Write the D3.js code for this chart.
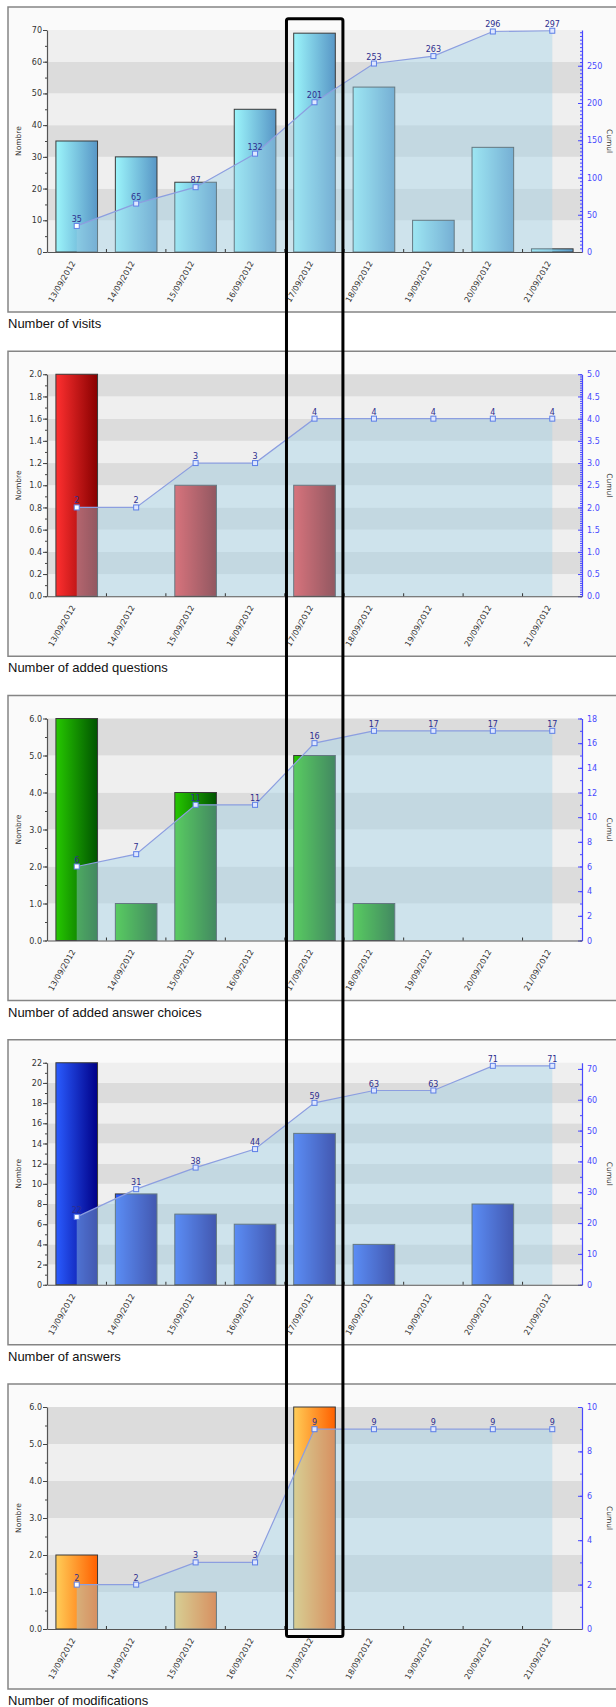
<!DOCTYPE html>
<html>
<head>
<meta charset="utf-8">
<script src="https://cdn.jsdelivr.net/npm/d3@7"></script>
<style>
  html, body { margin: 0; padding: 0; background: #ffffff; }
  svg { display: block; }
  .tick text { font-family: "DejaVu Sans", sans-serif; }
</style>
</head>
<body>
<svg id="chart" width="616" height="1707"></svg>
<script>
// Daily activity, 13/09/2012 to 21/09/2012
const dates = ["13/09/2012", "14/09/2012", "15/09/2012", "16/09/2012", "17/09/2012",
               "18/09/2012", "19/09/2012", "20/09/2012", "21/09/2012"];

const visits = [35, 30, 22, 45, 69, 52, 10, 33, 1];
const visitsCumul = [35, 65, 87, 132, 201, 253, 263, 296, 297];

const addedQuestions = [2, 0, 1, 0, 1, 0, 0, 0, 0];
const addedQuestionsCumul = [2, 2, 3, 3, 4, 4, 4, 4, 4];

const addedChoices = [6, 1, 4, 0, 5, 1, 0, 0, 0];
const addedChoicesCumul = [6, 7, 11, 11, 16, 17, 17, 17, 17];

const answers = [22, 9, 7, 6, 15, 4, 0, 8, 0];
const answersCumul = [22, 31, 38, 44, 59, 63, 63, 71, 71];

const modifications = [2, 0, 1, 0, 6, 0, 0, 0, 0];
const modificationsCumul = [2, 2, 3, 3, 9, 9, 9, 9, 9];

const panelTitles = ["Number of visits", "Number of added questions",
                     "Number of added answer choices", "Number of answers",
                     "Number of modifications"];

// Axis domains and tick steps ("Nombre" on the left, "Cumul" on the right)
const leftMax   = [70, 2, 6, 22, 6];
const leftStep  = [10, 0.2, 1, 2, 1];
const rightMax  = [298, 5, 18, 72, 10];
const rightStep = [50, 0.5, 2, 10, 2];
const rightMinor = [5, 0.05, 1, 5, 1];
const leftDecimals  = [0, 1, 1, 0, 1];
const rightDecimals = [0, 1, 0, 0, 0];
const highlighted = "17/09/2012";

const barSeries = [visits, addedQuestions, addedChoices, answers, modifications];
const cumulSeries = [visitsCumul, addedQuestionsCumul, addedChoicesCumul, answersCumul, modificationsCumul];

// Layout & style
const W = 616;
const plotLeft = 47, plotRight = 582, plotH = 222;
const firstTop = 30, panelGap = 344.25;
const barColors = [["#9cf5fb", "#5896c6"], ["#ff3030", "#880000"], ["#26c800", "#005400"],
                   ["#2a5cff", "#000088"], ["#ffcd58", "#ff6000"]];
const bandLight = "#efefef", bandDark = "#dcdcdc";
const fillColor = "rgba(159,209,231,0.42)";
const lineColor = "#8c9ee0";
const labelColor = "#2e2e8e";
const axisBlue = "#4848ff";

const svg = d3.select("#chart");
const defs = svg.append("defs");

const x = d3.scaleBand().domain(dates).range([plotLeft, plotRight]).paddingInner(0).paddingOuter(0);
const barW = x.bandwidth() * 0.70;

function steps(max, step) {
  const n = Math.floor(max / step + 1e-9);
  return d3.range(n + 1).map(k => +(k * step).toFixed(6));
}

barSeries.forEach((values, i) => {
  const cumul = cumulSeries[i];
  const top = firstTop + i * panelGap;
  const bottom = top + plotH;
  const yL = d3.scaleLinear().domain([0, leftMax[i]]).range([bottom, top]);
  const yR = d3.scaleLinear().domain([0, rightMax[i]]).range([bottom, top]);
  const g = svg.append("g");

  // panel frame
  g.append("rect")
    .attr("x", 8).attr("y", top - 23)
    .attr("width", W + 10).attr("height", plotH + 83)
    .attr("fill", "#fafafa").attr("stroke", "#858585").attr("stroke-width", 1.5);

  // title under the frame
  g.append("text")
    .attr("x", 8).attr("y", bottom + 76)
    .attr("font-family", "Liberation Sans, Arial, sans-serif")
    .attr("font-size", 13).attr("fill", "#111")
    .text(panelTitles[i]);

  // alternating horizontal bands, one per left-axis step
  const lt = steps(leftMax[i], leftStep[i]);
  g.append("g").selectAll("rect").data(d3.pairs(lt)).join("rect")
    .attr("x", plotLeft).attr("width", plotRight - plotLeft)
    .attr("y", d => yL(d[1])).attr("height", d => yL(d[0]) - yL(d[1]))
    .attr("fill", (d, k) => k % 2 === 0 ? bandLight : bandDark);

  // bar gradient
  const grad = defs.append("linearGradient").attr("id", "bar" + i)
    .attr("x1", 0).attr("x2", 1).attr("y1", 0).attr("y2", 0);
  grad.append("stop").attr("offset", "0%").attr("stop-color", barColors[i][0]);
  grad.append("stop").attr("offset", "100%").attr("stop-color", barColors[i][1]);

  // bars (Nombre)
  g.append("g").selectAll("rect").data(values.map((v, k) => ({ d: dates[k], v })).filter(o => o.v > 0))
    .join("rect")
    .attr("x", o => x(o.d) + (x.bandwidth() - barW) / 2)
    .attr("width", barW)
    .attr("y", o => yL(o.v))
    .attr("height", o => bottom - yL(o.v))
    .attr("fill", `url(#bar${i})`)
    .attr("stroke", "#3a3a3a").attr("stroke-width", 1);

  // cumulative area and line (Cumul)
  const pts = cumul.map((c, k) => ({ d: dates[k], c }));
  const cx = o => x(o.d) + x.bandwidth() / 2;
  g.append("path").datum(pts)
    .attr("d", d3.area().x(cx).y0(bottom).y1(o => yR(o.c)))
    .attr("fill", fillColor);
  g.append("path").datum(pts)
    .attr("d", d3.line().x(cx).y(o => yR(o.c)))
    .attr("fill", "none").attr("stroke", lineColor).attr("stroke-width", 1.2);
  g.append("g").selectAll("rect").data(pts).join("rect")
    .attr("x", o => cx(o) - 2.5).attr("y", o => yR(o.c) - 2.5)
    .attr("width", 5).attr("height", 5)
    .attr("fill", (o, k) => k === 0 ? "#ffffff" : "#dfe7ff")
    .attr("stroke", "#5d7fe6").attr("stroke-width", 1);
  g.append("g").selectAll("text").data(pts).join("text")
    .attr("x", cx).attr("y", o => yR(o.c) - 4)
    .attr("text-anchor", "middle")
    .attr("font-family", "DejaVu Sans, sans-serif").attr("font-size", 8)
    .attr("fill", labelColor)
    .text(o => o.c);

  // left axis (Nombre)
  const fmtL = d3.format(leftDecimals[i] ? ".1f" : "d");
  const leftMinorTicks = steps(leftMax[i], leftStep[i] / 2);
  g.append("g").attr("transform", `translate(${plotLeft},0)`)
    .call(d3.axisLeft(yL).tickValues(leftMinorTicks).tickSize(2).tickFormat(""))
    .call(a => a.select(".domain").remove())
    .call(a => a.selectAll("line").attr("stroke", "#444"));
  g.append("g").attr("transform", `translate(${plotLeft},0)`)
    .call(d3.axisLeft(yL).tickValues(lt).tickSize(4).tickSizeOuter(0).tickPadding(1).tickFormat(fmtL))
    .call(a => a.select(".domain").attr("stroke", "#555").attr("stroke-width", 1.2))
    .call(a => a.selectAll("line").attr("stroke", "#444"))
    .call(a => a.selectAll("text").attr("font-size", 8).attr("fill", "#333"));
  g.append("text")
    .attr("transform", `translate(${plotLeft - 26},${(top + bottom) / 2}) rotate(-90)`)
    .attr("text-anchor", "middle")
    .attr("font-family", "DejaVu Sans, sans-serif").attr("font-size", 7.5).attr("fill", "#333")
    .text("Nombre");

  // right axis (Cumul)
  const fmtR = d3.format(rightDecimals[i] ? ".1f" : "d");
  g.append("g").attr("transform", `translate(${plotRight},0)`)
    .call(d3.axisRight(yR).tickValues(steps(rightMax[i], rightMinor[i])).tickSizeInner(-2).tickSizeOuter(0).tickFormat(""))
    .call(a => a.select(".domain").remove())
    .call(a => a.selectAll("line").attr("stroke", axisBlue));
  g.append("g").attr("transform", `translate(${plotRight},0)`)
    .call(d3.axisRight(yR).tickValues(steps(rightMax[i], rightStep[i])).tickSizeInner(-4).tickSizeOuter(0).tickPadding(5).tickFormat(fmtR))
    .call(a => a.select(".domain").attr("stroke", axisBlue).attr("stroke-width", 1.2))
    .call(a => a.selectAll("line").attr("stroke", axisBlue))
    .call(a => a.selectAll("text").attr("font-size", 8).attr("fill", axisBlue));
  g.append("text")
    .attr("transform", `translate(${plotRight + 25},${(top + bottom) / 2}) rotate(90)`)
    .attr("text-anchor", "middle")
    .attr("font-family", "DejaVu Sans, sans-serif").attr("font-size", 7.5).attr("fill", "#333")
    .text("Cumul");

  // category axis
  const xa = g.append("g").attr("transform", `translate(0,${bottom})`)
    .call(d3.axisBottom(x).tickSize(0).tickSizeOuter(0).tickPadding(0));
  xa.select(".domain").attr("stroke", "#555").attr("stroke-width", 1.2);
  xa.selectAll("text")
    .attr("font-size", 8).attr("fill", "#333")
    .attr("text-anchor", "end")
    .attr("y", 0).attr("dy", 0)
    .attr("transform", "translate(-1,11) rotate(-60)");
  g.append("g").selectAll("line").data(dates.slice(1)).join("line")
    .attr("x1", d => x(d)).attr("x2", d => x(d))
    .attr("y1", bottom).attr("y2", bottom - 3)
    .attr("stroke", "#333").attr("stroke-width", 1);
});

// highlight box around one day, across all panels
const lastBottom = firstTop + (barSeries.length - 1) * panelGap + plotH;
svg.append("rect")
  .attr("x", x(highlighted) + 1.7)
  .attr("y", firstTop - 11.2)
  .attr("width", x.bandwidth() - 3)
  .attr("height", lastBottom + 7.5 - (firstTop - 11.2))
  .attr("rx", 2)
  .attr("fill", "none").attr("stroke", "#000").attr("stroke-width", 3);
</script>
</body>
</html>
